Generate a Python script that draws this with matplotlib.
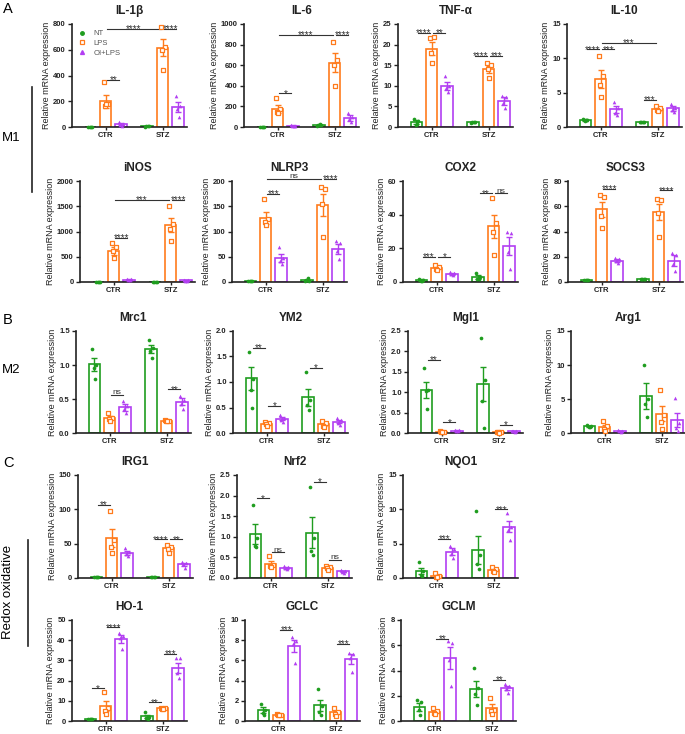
import matplotlib
matplotlib.use('Agg')
import numpy as np
import matplotlib.pyplot as plt
from matplotlib.lines import Line2D

plt.rcParams['font.family'] = ['Liberation Sans', 'DejaVu Sans']

# groups / treatments
groups = ['CTR', 'STZ']
treatments = ['NT', 'LPS', 'OI+LPS']

# each gene: 6 bars (CTR NT, CTR LPS, CTR OI+LPS, STZ NT, STZ LPS, STZ OI+LPS)
# sig: (bar i, bar j, y, label)
il1b_mean = [2, 200, 20, 5, 615, 155]
il1b_sem = [1, 50, 8, 2, 65, 38]
il1b_pts = [[1, 2, 2, 3], [350, 180, 160, 175], [35, 20, 15, 10],
            [3, 8, 5, 4], [780, 620, 600, 440], [240, 165, 140, 75]]
il1b_sig = [(1, 2, 365, '**'), (1, 4, 760, '****'), (4, 5, 760, '****')]

il6_mean = [2, 175, 12, 15, 625, 90]
il6_sem = [1, 35, 3, 5, 95, 30]
il6_pts = [[1, 2, 2, 3], [285, 170, 150, 140], [15, 10, 12, 8],
           [5, 15, 20, 25], [830, 650, 600, 400], [140, 100, 75, 50]]
il6_sig = [(1, 2, 326, '*'), (1, 4, 896, '****'), (4, 5, 896, '****')]

tnf_mean = [1.2, 19.0, 10.0, 1.1, 14.0, 6.3]
tnf_sem = [0.5, 1.6, 0.9, 0.1, 0.9, 1.0]
tnf_pts = [[2, 1.5, 0.5, 0.8], [21.6, 21.8, 18.0, 15.5], [12.3, 10, 9.5, 8.5],
           [1.0, 1.1, 1.2, 1.1], [15.5, 15, 14, 12], [7.5, 7.3, 5.8, 4.5]]
tnf_sig = [(0, 1, 22.8, '****'), (1, 2, 22.8, '**'), (3, 4, 17.3, '****'), (4, 5, 17.3, '***')]

il10_mean = [1.0, 7.0, 2.6, 0.7, 2.6, 2.7]
il10_sem = [0.1, 1.3, 0.5, 0.05, 0.2, 0.3]
il10_pts = [[1.2, 1.0, 0.9, 1.0], [10.4, 7.4, 6.1, 4.4], [3.6, 2.8, 2.0, 1.8],
            [0.7, 0.7, 0.7, 0.7], [3.1, 2.7, 2.5, 2.3], [3.4, 2.8, 2.5, 2.2]]
il10_sig = [(0, 1, 11.3, '****'), (1, 2, 11.3, '***'), (1, 4, 12.2, '***'), (3, 4, 4.0, '***')]

inos_mean = [2, 620, 45, 5, 1130, 30]
inos_sem = [1, 80, 5, 2, 140, 5]
inos_pts = [[1, 2, 2, 3], [770, 700, 620, 480], [50, 50, 45, 40],
            [3, 5, 8, 5], [1500, 1150, 1050, 820], [40, 30, 25, 25]]
inos_sig = [(1, 2, 870, '****'), (1, 4, 1625, '***'), (4, 5, 1625, '****')]

nlrp3_mean = [1, 127, 48, 3, 152, 65]
nlrp3_sem = [0.3, 12, 8, 1.5, 22, 10]
nlrp3_pts = [[1, 1, 1, 1], [165, 125, 118, 112], [70, 48, 42, 35],
             [1, 2, 3, 8], [188, 185, 155, 90], [82, 78, 62, 45]]
nlrp3_sig = [(1, 2, 175, '***'), (1, 4, 204, 'ns'), (4, 5, 204, '****')]

cox2_mean = [1, 8.5, 5, 3, 33, 21.5]
cox2_sem = [0.5, 1, 0.6, 1, 7, 5.5]
cox2_pts = [[2, 1, 0.5, 0.8], [10, 9, 8, 7], [6, 5.5, 5, 4],
            [5.5, 3, 2, 2], [50, 35, 30, 16], [29.5, 29, 18, 8]]
cox2_sig = [(0, 1, 15.1, '***'), (1, 2, 15.1, '*'), (3, 4, 52.6, '**'), (4, 5, 52.6, 'ns')]

socs3_mean = [1.5, 57.5, 17, 2, 55.5, 17]
socs3_sem = [0.2, 6, 1, 0.2, 6.5, 4]
socs3_pts = [[1.5, 1.5, 1.5, 1.5], [69, 67, 52, 43], [19, 18, 17, 15],
             [2, 2, 2, 2], [66, 65, 55, 36], [23, 21, 14, 9]]
socs3_sig = [(1, 2, 74, '****'), (4, 5, 72.5, '****')]

mrc1_mean = [1.01, 0.22, 0.38, 1.23, 0.18, 0.46]
mrc1_sem = [0.1, 0.03, 0.05, 0.06, 0.01, 0.05]
mrc1_pts = [[1.24, 1.0, 0.95, 0.8], [0.3, 0.22, 0.2, 0.17], [0.47, 0.4, 0.35, 0.3],
            [1.37, 1.25, 1.2, 1.1], [0.19, 0.18, 0.18, 0.17], [0.55, 0.48, 0.43, 0.35]]
mrc1_sig = [(1, 2, 0.56, 'ns'), (4, 5, 0.64, '**')]

ym2_mean = [1.07, 0.18, 0.28, 0.7, 0.17, 0.22]
ym2_sem = [0.22, 0.03, 0.03, 0.17, 0.03, 0.03]
ym2_pts = [[1.58, 1.05, 0.85, 0.5], [0.22, 0.19, 0.17, 0.14], [0.36, 0.3, 0.25, 0.22],
           [1.2, 0.65, 0.55, 0.45], [0.23, 0.2, 0.14, 0.12], [0.3, 0.25, 0.2, 0.15]]
ym2_sig = [(0, 1, 1.67, '**'), (1, 2, 0.53, '*'), (3, 4, 1.28, '*')]

mgl1_mean = [1.05, 0.03, 0.06, 1.2, 0.02, 0.04]
mgl1_sem = [0.2, 0.01, 0.01, 0.42, 0.01, 0.01]
mgl1_pts = [[1.6, 1.05, 1.02, 0.58], [0.04, 0.03, 0.02, 0.03], [0.08, 0.07, 0.05, 0.05],
            [2.32, 1.3, 0.78, 0.13], [0.03, 0.02, 0.02, 0.01], [0.05, 0.04, 0.04, 0.03]]
mgl1_sig = [(0, 1, 1.79, '**'), (1, 2, 0.26, '*'), (4, 5, 0.2, '*')]

arg1_mean = [1.0, 0.9, 0.3, 5.4, 2.8, 1.9]
arg1_sem = [0.1, 0.35, 0.05, 1.9, 1.1, 1.0]
arg1_pts = [[1.2, 1.0, 0.9, 0.9], [1.8, 1.0, 0.6, 0.3], [0.4, 0.3, 0.3, 0.2],
            [10, 5.0, 4.3, 2.3], [6.3, 2.7, 1.6, 0.6], [5.1, 1.5, 0.8, 0.3]]
arg1_sig = []

irg1_mean = [1, 58, 37, 1.5, 43, 20]
irg1_sem = [0.3, 13, 3, 0.3, 3, 2]
irg1_pts = [[1, 1, 1, 1], [98, 55, 45, 37], [43, 38, 35, 32],
            [1, 2, 1, 2], [48, 45, 42, 37], [24, 22, 20, 15]]
irg1_sig = [(0, 1, 107, '**'), (3, 4, 56.4, '****'), (4, 5, 56.4, '**')]

nrf2_mean = [1.07, 0.35, 0.25, 1.1, 0.25, 0.16]
nrf2_sem = [0.24, 0.06, 0.02, 0.38, 0.02, 0.02]
nrf2_pts = [[1.78, 0.97, 0.78, 0.75], [0.53, 0.32, 0.28, 0.27], [0.28, 0.26, 0.24, 0.22],
            [2.22, 0.97, 0.65, 0.55], [0.3, 0.26, 0.24, 0.2], [0.2, 0.18, 0.15, 0.12]]
nrf2_sig = [(0, 1, 1.93, '*'), (1, 2, 0.62, 'ns'), (3, 4, 2.34, '*'), (4, 5, 0.43, 'ns')]

nqo1_mean = [1.0, 0.3, 3.8, 4.1, 1.2, 7.5]
nqo1_sem = [0.45, 0.15, 0.5, 2.0, 0.2, 0.75]
nqo1_pts = [[2.3, 1.0, 0.5, 0.3], [0.7, 0.3, 0.1, 0.1], [4.6, 4.2, 3.5, 2.9],
            [9.7, 3.4, 2.0, 1.3], [1.6, 1.3, 1.0, 0.9], [9.4, 7.5, 7.0, 5.5]]
nqo1_sig = [(1, 2, 5.7, '***'), (4, 5, 10.0, '***')]

ho1_mean = [1.0, 7.3, 40.8, 2.3, 6.2, 26.3]
ho1_sem = [0.2, 2.5, 2.0, 0.9, 0.2, 2.5]
ho1_pts = [[1.2, 1.0, 1.0, 0.8], [14.4, 6.5, 5.0, 3.5], [43.5, 42, 41, 35.5],
           [4.5, 2, 1.5, 1.0], [6.6, 6.3, 6.0, 5.9], [31, 31, 24, 21.5]]
ho1_sig = [(0, 1, 16.2, '*'), (1, 2, 46.4, '****'), (3, 4, 9.2, '**'), (4, 5, 33.3, '***')]

gclc_mean = [1.05, 0.6, 7.4, 1.55, 0.85, 6.1]
gclc_sem = [0.3, 0.05, 0.6, 0.55, 0.15, 0.5]
gclc_pts = [[1.7, 1.1, 0.8, 0.6], [0.65, 0.6, 0.6, 0.55], [8.3, 7.9, 7.6, 5.7],
            [3.2, 1.5, 0.9, 0.6], [1.3, 0.9, 0.7, 0.5], [6.7, 6.6, 6.2, 4.9]]
gclc_sig = [(1, 2, 9.0, '***'), (4, 5, 7.65, '***')]

gclm_mean = [1.1, 0.75, 5.0, 2.55, 1.05, 2.6]
gclm_sem = [0.3, 0.1, 0.85, 0.65, 0.3, 0.15]
gclm_pts = [[1.7, 1.5, 0.9, 0.5], [1.05, 0.8, 0.6, 0.55], [6.3, 6.2, 4.8, 2.8],
            [4.2, 2.6, 2.1, 1.3], [1.85, 0.9, 0.8, 0.55], [2.9, 2.8, 2.5, 2.2]]
gclm_sig = [(1, 2, 6.5, '**'), (4, 5, 3.25, '**')]

colors = ['#1f9d1f', '#ff7b1c', '#b23ef2']
markers = ['o', 's', '^']
xpos = [-0.27, 0.0, 0.27, 0.73, 1.0, 1.27]
jit = [-0.035, 0.035, -0.012, 0.012]

W, H = 685, 734
fig = plt.figure(figsize=(6.85, 7.34), dpi=100)


def panel(left, top, bottom, title, mean, sem, pts, sig, ymax, step, fmt='{:g}', legend=False):
    ax = fig.add_axes([left / W, 1 - bottom / H, 115 / W, (bottom - top) / H])
    for i in range(6):
        c = colors[i % 3]
        ax.bar(xpos[i], mean[i], width=0.2, color='white', edgecolor=c, linewidth=1.2, zorder=2)
        ax.errorbar(xpos[i], mean[i], yerr=sem[i], color=c, capsize=2.2,
                    elinewidth=1, capthick=1, zorder=3)
        xs = [xpos[i] + jit[k % 4] for k in range(len(pts[i]))]
        if markers[i % 3] == 's':
            ax.scatter(xs, pts[i], marker='s', s=7, facecolors='white', edgecolors=c,
                       linewidths=0.9, zorder=4, clip_on=False)
        else:
            ax.scatter(xs, pts[i], marker=markers[i % 3], s=7, color=c, linewidths=0,
                       zorder=4, clip_on=False)
    for i, j, y, s in sig:
        ax.plot([xpos[i] + 0.03, xpos[j] - 0.03], [y, y], color='#333333', lw=0.8,
                clip_on=False)
        off = 0.6 if s == 'ns' else -2.4
        ax.annotate(s, ((xpos[i] + xpos[j]) / 2, y), xytext=(0, off), textcoords='offset points',
                    ha='center', va='baseline', fontsize=7 if s != 'ns' else 6,
                    color='#333333', annotation_clip=False)
    ax.set_xlim(-0.59, 1.43)
    ax.set_ylim(0, ymax)
    ticks = np.arange(0, ymax + step / 2, step)
    ax.set_yticks(ticks)
    ax.set_yticklabels([fmt.format(t) for t in ticks], fontsize=5.5, fontweight='bold')
    ax.set_xticks([0, 1])
    ax.set_xticklabels(groups, fontsize=5.5, fontweight='bold')
    ax.tick_params(axis='y', length=3, width=1, pad=1.5, colors='#222222')
    ax.tick_params(axis='x', length=2.5, width=1, pad=1.2, colors='#222222')
    for sp in ['top', 'right']:
        ax.spines[sp].set_visible(False)
    for sp in ['left', 'bottom']:
        ax.spines[sp].set_linewidth(1.2)
        ax.spines[sp].set_color('#222222')
    ax.set_ylabel('Relative mRNA expression', fontsize=6.5, labelpad=1.5, color='#222222')
    ax.set_title(title, fontsize=8.5, fontweight='bold', pad=7, color='#222222')
    if legend:
        handles = [Line2D([], [], marker='o', ls='', color=colors[0], markersize=2.5),
                   Line2D([], [], marker='s', ls='', markerfacecolor='white',
                          markeredgecolor=colors[1], markersize=2.8, markeredgewidth=0.9),
                   Line2D([], [], marker='^', ls='', color=colors[2], markersize=2.8)]
        ax.legend(handles, treatments, loc='upper left', bbox_to_anchor=(0.03, 0.97),
                  frameon=False, fontsize=5.5, handlelength=1.0, handletextpad=1.0,
                  labelspacing=0.3, labelcolor='#555555', borderaxespad=0)
    return ax


# row 1 (M1)
panel(72, 24, 127, 'IL-1β', il1b_mean, il1b_sem, il1b_pts, il1b_sig, 800, 200, legend=True)
panel(244, 24, 127, 'IL-6', il6_mean, il6_sem, il6_pts, il6_sig, 1000, 200)
panel(398, 24, 127, 'TNF-α', tnf_mean, tnf_sem, tnf_pts, tnf_sig, 25, 5)
panel(567, 24, 127, 'IL-10', il10_mean, il10_sem, il10_pts, il10_sig, 15, 5)
# row 2 (M1)
panel(80, 181, 282, 'iNOS', inos_mean, inos_sem, inos_pts, inos_sig, 2000, 500)
panel(232, 181, 282, 'NLRP3', nlrp3_mean, nlrp3_sem, nlrp3_pts, nlrp3_sig, 200, 50)
panel(403, 181, 282, 'COX2', cox2_mean, cox2_sem, cox2_pts, cox2_sig, 60, 20)
panel(568, 181, 282, 'SOCS3', socs3_mean, socs3_sem, socs3_pts, socs3_sig, 80, 20)
# row 3 (M2)
panel(76, 331, 433, 'Mrc1', mrc1_mean, mrc1_sem, mrc1_pts, mrc1_sig, 1.5, 0.5, '{:.1f}')
panel(233, 331, 433, 'YM2', ym2_mean, ym2_sem, ym2_pts, ym2_sig, 2.0, 0.5, '{:.1f}')
panel(408, 331, 433, 'Mgl1', mgl1_mean, mgl1_sem, mgl1_pts, mgl1_sig, 2.5, 0.5, '{:.1f}')
panel(571, 331, 433, 'Arg1', arg1_mean, arg1_sem, arg1_pts, arg1_sig, 15, 5)
# row 4 (redox)
panel(78, 475, 578, 'IRG1', irg1_mean, irg1_sem, irg1_pts, irg1_sig, 150, 50)
panel(237, 475, 578, 'Nrf2', nrf2_mean, nrf2_sem, nrf2_pts, nrf2_sig, 2.5, 0.5, '{:.1f}')
panel(403, 475, 578, 'NQO1', nqo1_mean, nqo1_sem, nqo1_pts, nqo1_sig, 15, 5)
# row 5 (redox)
panel(72, 620, 721, 'HO-1', ho1_mean, ho1_sem, ho1_pts, ho1_sig, 50, 10)
panel(245, 620, 721, 'GCLC', gclc_mean, gclc_sem, gclc_pts, gclc_sig, 10, 2)
panel(401, 620, 721, 'GCLM', gclm_mean, gclm_sem, gclm_pts, gclm_sig, 8, 2)

# panel letters and side labels
fig.text(3 / W, 1 - 9 / H, 'A', fontsize=10.5, va='center', ha='left')
fig.text(3 / W, 1 - 320 / H, 'B', fontsize=10.5, va='center', ha='left')
fig.text(3 / W, 1 - 463 / H, 'C', fontsize=10.5, va='center', ha='left')
fig.text(2 / W, 1 - 138 / H, 'M1', fontsize=9.5, va='center', ha='left')
fig.text(2 / W, 1 - 370 / H, 'M2', fontsize=9.5, va='center', ha='left')
fig.text(8 / W, 1 - 592 / H, 'Redox oxidative', fontsize=9.5, va='center', ha='center',
         rotation=90)
fig.add_artist(Line2D([32 / W, 32 / W], [1 - 87 / H, 1 - 192 / H], color='#222222', lw=1.2))
fig.add_artist(Line2D([28 / W, 28 / W], [1 - 540 / H, 1 - 646 / H], color='#222222', lw=1.2))

fig.savefig('out.png', dpi=100)
